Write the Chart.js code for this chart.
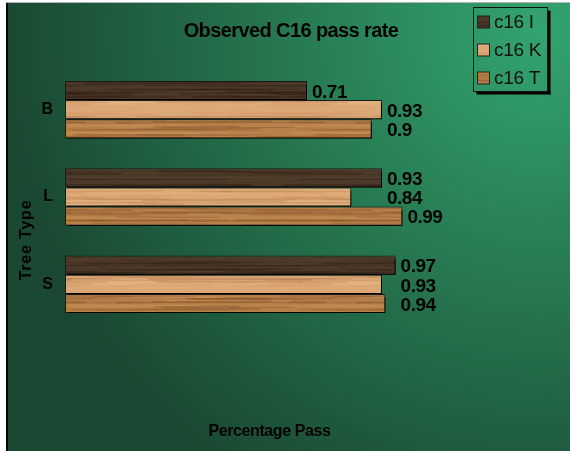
<!DOCTYPE html>
<html>
<head>
<meta charset="utf-8">
<script src="https://cdn.jsdelivr.net/npm/chart.js@4/dist/chart.umd.min.js"></script>
<style>
  html, body { margin: 0; padding: 0; background: #fff; }
  canvas { display: block; }
</style>
</head>
<body>
<canvas id="chart" width="570" height="451"></canvas>
<script>
// DATA

const treeTypes = ["B", "L", "S"];
const seriesNames = ["c16 I", "c16 K", "c16 T"];
const c16I = [0.71, 0.93, 0.97];
const c16K = [0.93, 0.84, 0.93];
const c16T = [0.9, 0.99, 0.94];

const FONT = '"Liberation Sans", Arial, sans-serif';

// WOOD TEXTURES

/**
 * builds a repeating grain pattern (seeded so every render looks the same)
 * @param {string} base
 * @param {string} dark
 * @param {string} light
 * @param {number} seed
 */
function woodPattern(base, dark, light, seed) {
    const w = 240, h = 60;
    const c = document.createElement("canvas");
    c.width = w;
    c.height = h;
    const g = c.getContext("2d");
    g.fillStyle = base;
    g.fillRect(0, 0, w, h);

    let s = seed;
    const rnd = () => (s = (s * 16807) % 2147483647) / 2147483647;

    const streak = (color, count, alphaMin, alphaMax, widthMax) => {
        g.strokeStyle = color;
        for (let i = 0; i < count; i++) {
            const y = rnd() * h;
            const x = rnd() * w;
            const len = 30 + rnd() * 180;
            const dy = (rnd() - 0.5) * 1.2;
            g.globalAlpha = alphaMin + rnd() * (alphaMax - alphaMin);
            g.lineWidth = 0.6 + rnd() * widthMax;
            for (const ox of [0, -w]) {
                g.beginPath();
                g.moveTo(x + ox, y);
                g.lineTo(x + ox + len, y + dy);
                g.stroke();
            }
        }
    };
    streak(light, 45, 0.15, 0.35, 1.4);
    streak(dark, 70, 0.1, 0.4, 1.2);
    g.globalAlpha = 1;
    return g.createPattern(c, "repeat");
}

const patterns = [
    woodPattern("#4b3828", "#2a1c12", "#5f4a35", 11),
    woodPattern("#dda877", "#b27a48", "#eec597", 29),
    woodPattern("#b7804a", "#74451d", "#cf9a60", 47),
];

// PLUGINS

const backgroundPlugin = {
    id: "background",
    beforeDraw(chart) {
        const { ctx, width, height } = chart;
        ctx.save();
        ctx.fillStyle = "#fff";
        ctx.fillRect(0, 0, width, height);
        const grad = ctx.createRadialGradient(540, 30, 0, 540, 30, 540);
        grad.addColorStop(0, "#33a46f");
        grad.addColorStop(0.45, "#277a51");
        grad.addColorStop(1, "#1a4832");
        ctx.fillStyle = grad;
        ctx.fillRect(8, 3, width - 8, height - 3);
        ctx.fillStyle = "#b4b4b4";
        ctx.fillRect(6, 2, width - 6, 1);
        ctx.fillStyle = "#000";
        ctx.fillRect(6, 3, 2, height - 3);
        ctx.restore();
    },
};

const barShadowPlugin = {
    id: "barShadow",
    beforeDatasetDraw(chart) {
        const ctx = chart.ctx;
        ctx.save();
        ctx.shadowColor = "#000";
        ctx.shadowBlur = 0;
        ctx.shadowOffsetX = 2;
        ctx.shadowOffsetY = 3;
    },
    afterDatasetDraw(chart) {
        chart.ctx.restore();
    },
};

// value labels: each label sits past its bar, never left of the label above it
const valueLabelPlugin = {
    id: "valueLabels",
    afterDatasetsDraw(chart) {
        const { ctx } = chart;
        ctx.save();
        ctx.font = `bold 19px ${FONT}`;
        ctx.letterSpacing = "-0.5px";
        ctx.fillStyle = "#000";
        ctx.textAlign = "left";
        ctx.textBaseline = "middle";
        treeTypes.forEach((_, index) => {
            let prevX = -Infinity;
            chart.data.datasets.forEach((dataset, datasetIndex) => {
                const bar = chart.getDatasetMeta(datasetIndex).data[index];
                const x = Math.max(bar.x + 5, prevX);
                ctx.fillText(String(dataset.data[index]), x, bar.y + 2);
                prevX = x;
            });
        });
        ctx.restore();
    },
};

const textPlugin = {
    id: "texts",
    afterDraw(chart) {
        const { ctx, chartArea } = chart;
        ctx.save();
        ctx.fillStyle = "#000";
        ctx.textAlign = "center";
        ctx.textBaseline = "middle";

        // chart title
        ctx.font = `bold 20px ${FONT}`;
        ctx.letterSpacing = "-0.6px";
        ctx.fillText("Observed C16 pass rate", 291, 31);

        // x axis title
        ctx.font = `bold 16px ${FONT}`;
        ctx.letterSpacing = "-0.4px";
        ctx.fillText("Percentage Pass", (chartArea.left + chartArea.right) / 2, 432);

        // y axis title
        ctx.letterSpacing = "0.8px";
        ctx.translate(27, 240);
        ctx.rotate(-Math.PI / 2);
        ctx.fillText("Tree Type", 0, 0);
        ctx.restore();

        // legend
        ctx.save();
        const box = { x: 473.5, y: 7.5, w: 74, h: 84 };
        ctx.fillStyle = "#000";
        ctx.fillRect(box.x + box.w, box.y + 3, 3, box.h);
        ctx.fillRect(box.x + 3, box.y + box.h, box.w, 3);
        ctx.strokeStyle = "#111";
        ctx.lineWidth = 1;
        ctx.strokeRect(box.x, box.y, box.w, box.h);

        ctx.font = `19px ${FONT}`;
        ctx.letterSpacing = "-0.3px";
        ctx.textAlign = "left";
        ctx.textBaseline = "middle";
        chart.data.datasets.forEach((dataset, i) => {
            const cy = 22 + i * 28;
            ctx.fillStyle = dataset.backgroundColor;
            ctx.fillRect(477.5, cy - 6, 12, 12);
            ctx.strokeStyle = "#222";
            ctx.strokeRect(477.5, cy - 6, 12, 12);
            ctx.fillStyle = "#111";
            ctx.fillText(dataset.label, 494, cy + 1);
        });
        ctx.restore();
    },
};

// CHART

const seriesValues = [c16I, c16K, c16T];

const chart = new Chart(document.getElementById("chart"), {
    type: "bar",
    data: {
        labels: treeTypes,
        datasets: seriesNames.map((label, i) => ({
            label,
            data: seriesValues[i],
            backgroundColor: patterns[i],
            borderColor: "#1a1a1a",
            borderWidth: 1,
            borderSkipped: false,
            barPercentage: 1,
            categoryPercentage: 0.658,
        })),
    },
    options: {
        indexAxis: "y",
        responsive: false,
        animation: false,
        devicePixelRatio: 1,
        layout: {
            padding: { top: 66, bottom: 123, left: 0, right: 96 },
        },
        plugins: {
            legend: { display: false },
            tooltip: { enabled: false },
            title: { display: false },
        },
        scales: {
            x: {
                display: false,
                min: 0,
                max: 1.2,
            },
            y: {
                grid: { display: false, drawTicks: false },
                border: { display: false },
                ticks: {
                    color: "#000",
                    padding: 12,
                    font: { family: FONT, size: 16, weight: "bold" },
                },
                afterFit(scale) {
                    scale.width = 65;
                },
            },
        },
    },
    plugins: [backgroundPlugin, barShadowPlugin, valueLabelPlugin, textPlugin],
});
</script>
</body>
</html>
